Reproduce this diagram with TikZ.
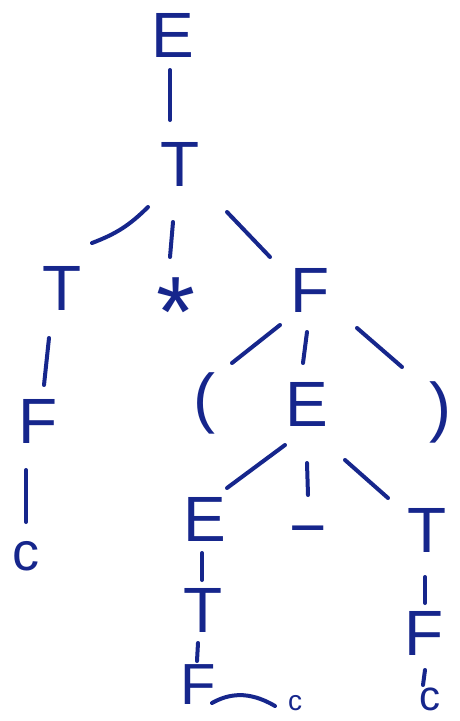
\documentclass[tikz,border=0pt]{standalone}
\usepackage{fontspec}
\setmainfont{Liberation Sans}
\usetikzlibrary{calc}
\definecolor{ink}{RGB}{22,38,140}
\begin{document}
\begin{tikzpicture}[x=1pt,y=-1pt,
  sym/.style={inner sep=0pt,text=ink,font=\fontsize{64}{64}\selectfont},
  small/.style={inner sep=0pt,text=ink,font=\fontsize{54}{54}\selectfont},
  tiny/.style={inner sep=0pt,text=ink,font=\fontsize{28}{28}\selectfont},
  paren/.style={inner sep=0pt,text=ink,font=\fontsize{66}{66}\selectfont},
  edge/.style={draw=ink,line width=4pt,line cap=round}]
\fill[white] (0,0) rectangle (460,721);
\useasboundingbox (0,0) rectangle (460,721);
% nodes
\node[sym] (E1) at (173,35) {E};
\node[sym] (T1) at (180,164) {T};
\node[sym] (T2) at (62,288) {T};
\node[sym,font=\fontsize{100}{100}\selectfont] (S) at (176,312) {*};
\node[sym] (F1) at (310,290) {F};
\node[sym] (F2) at (38,421) {F};
\node[small] (c1) at (26,556) {c};
\node[paren] (LP) at (204,403) {(};
\node[sym] (E3) at (307,404) {E};
\node[paren] (RP) at (440,412) {)};
\node[sym] (E4) at (205,519) {E};
\node[sym] (M) at (308,538) {−};
\node[sym] (T3) at (427,530) {T};
\node[sym] (T4) at (203,610) {T};
\node[sym,font=\fontsize{58}{58}\selectfont] (F3) at (198,685) {F};
\node[tiny] (c2) at (295,703) {c};
\node[sym] (F4) at (424,633) {F};
\node[small,font=\fontsize{42}{42}\selectfont] (c3) at (430,699) {c};
% connectors
\draw[edge] ($(E1)+(-3,35)$) -- ($(T1)+(-10,-44)$);
\draw[edge] ($(T1)+(-32,43)$) to[bend left=12] ($(T2)+(30,-45)$);
\draw[edge] ($(T1)+(-7,58)$) -- ($(S)+(-6,-55)$);
\draw[edge] ($(T1)+(47,48)$) -- ($(F1)+(-40,-33)$);
\draw[edge] ($(T2)+(-13,50)$) -- ($(F2)+(6,-36)$);
\draw[edge] ($(F2)+(-12,49)$) -- ($(c1)+(0,-34)$);
\draw[edge] ($(F1)+(-30,35)$) -- ($(LP)+(28,-40)$);
\draw[edge] ($(F1)+(-3,42)$) -- ($(E3)+(-4,-41)$);
\draw[edge] ($(F1)+(47,38)$) -- ($(RP)+(-38,-45)$);
\draw[edge] ($(E3)+(-22,41)$) -- ($(E4)+(22,-31)$);
\draw[edge] ($(E3)+(0,59)$) -- ($(M)+(0,-43)$);
\draw[edge] ($(E3)+(38,56)$) -- ($(T3)+(-39,-32)$);
\draw[edge] ($(E4)+(-3,34)$) -- ($(T4)+(-1,-30)$);
\draw[edge] ($(T4)+(-5,33)$) -- ($(F3)+(-1,-24)$);
\draw[edge] ($(F3)+(14,18)$) .. controls ($(F3)+(30,9)$) and ($(F3)+(50,5)$) .. ($(c2)+(-20,3)$);
\draw[edge] ($(T3)+(-2,47)$) -- ($(F4)+(1,-30)$);
\draw[edge] ($(F4)+(1,37)$) -- ($(c3)+(-7,-14)$);
\end{tikzpicture}
\end{document}
